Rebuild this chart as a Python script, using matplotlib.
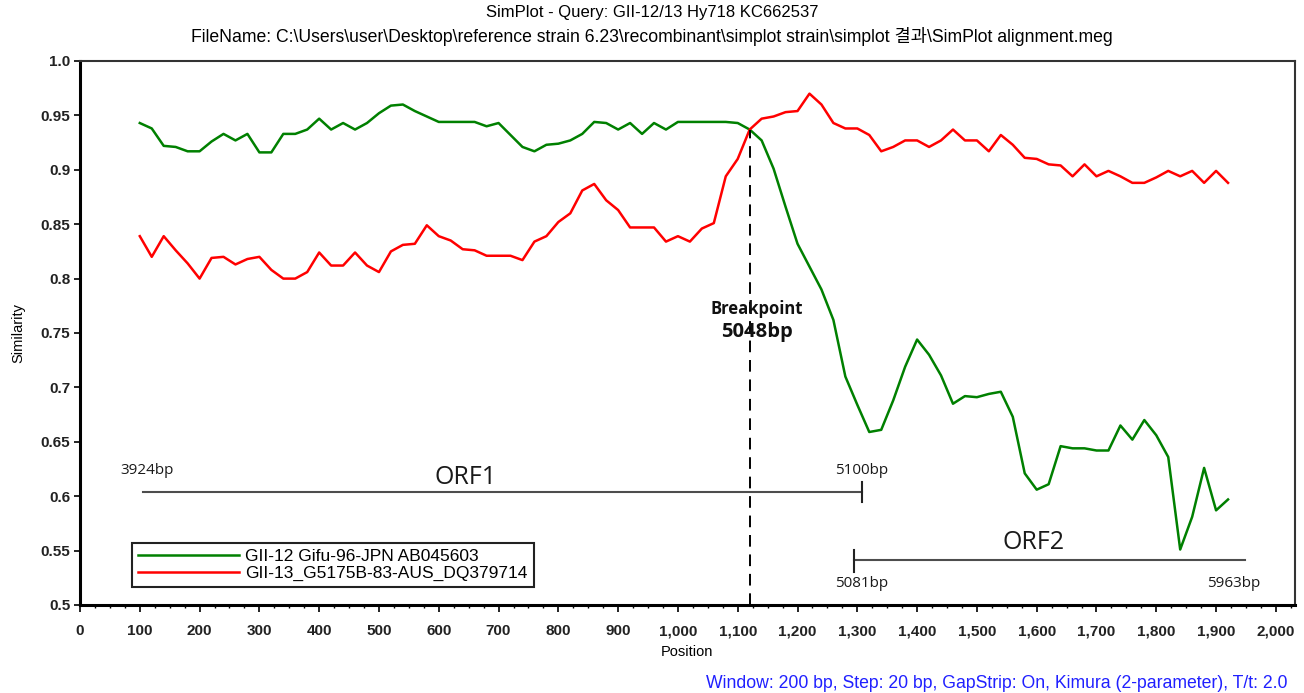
import numpy as np
import matplotlib
matplotlib.use("Agg")
import matplotlib.pyplot as plt
from matplotlib.ticker import MultipleLocator, FuncFormatter, FixedLocator

# SimPlot output, window 200 bp, step 20 bp
position = np.arange(100, 1921, 20)

gii12_gifu = [
    0.943, 0.938, 0.922, 0.921, 0.917, 0.917, 0.926, 0.933, 0.927, 0.933,
    0.916, 0.916, 0.933, 0.933, 0.937, 0.947, 0.937, 0.943, 0.937, 0.943,
    0.952, 0.959, 0.960, 0.954, 0.949, 0.944, 0.944, 0.944, 0.944, 0.940,
    0.943, 0.932, 0.921, 0.917, 0.923, 0.924, 0.927, 0.933, 0.944, 0.943,
    0.937, 0.943, 0.933, 0.943, 0.937, 0.944, 0.944, 0.944, 0.944, 0.944,
    0.943, 0.937, 0.927, 0.901, 0.866, 0.832, 0.811, 0.790, 0.762, 0.710,
    0.684, 0.659, 0.661, 0.688, 0.719, 0.744, 0.730, 0.711, 0.685, 0.692,
    0.691, 0.694, 0.696, 0.673, 0.621, 0.606, 0.611, 0.646, 0.644, 0.644,
    0.642, 0.642, 0.665, 0.652, 0.670, 0.656, 0.636, 0.551, 0.581, 0.626,
    0.587, 0.597,
]

gii13_g5175b = [
    0.839, 0.820, 0.839, 0.826, 0.814, 0.800, 0.819, 0.820, 0.813, 0.818,
    0.820, 0.808, 0.800, 0.800, 0.806, 0.824, 0.812, 0.812, 0.824, 0.812,
    0.806, 0.825, 0.831, 0.832, 0.849, 0.839, 0.835, 0.827, 0.826, 0.821,
    0.821, 0.821, 0.817, 0.834, 0.839, 0.852, 0.860, 0.881, 0.887, 0.872,
    0.863, 0.847, 0.847, 0.847, 0.834, 0.839, 0.834, 0.846, 0.851, 0.894,
    0.910, 0.937, 0.947, 0.949, 0.953, 0.954, 0.970, 0.960, 0.943, 0.938,
    0.938, 0.932, 0.917, 0.921, 0.927, 0.927, 0.921, 0.927, 0.937, 0.927,
    0.927, 0.917, 0.932, 0.923, 0.911, 0.910, 0.905, 0.904, 0.894, 0.905,
    0.894, 0.899, 0.894, 0.888, 0.888, 0.893, 0.899, 0.894, 0.899, 0.888,
    0.899, 0.888,
]

series_labels = ["GII-12 Gifu-96-JPN AB045603", "GII-13_G5175B-83-AUS_DQ379714"]
y_ticks = [0.5, 0.55, 0.6, 0.65, 0.7, 0.75, 0.8, 0.85, 0.9, 0.95, 1.0]
y_tick_labels = ["0.5", "0.55", "0.6", "0.65", "0.7", "0.75", "0.8", "0.85", "0.9", "0.95", "1.0"]

breakpoint_pos = 1120
# ORF spans in alignment positions, with their genome coordinates
orf1 = (105, 1308, "3924bp", "5100bp")
orf2 = (1294, 1948, "5081bp", "5963bp")

title1 = "SimPlot - Query: GII-12/13 Hy718 KC662537"
title2 = ("FileName: C:\\Users\\user\\Desktop\\reference strain 6.23\\recombinant"
          "\\simplot strain\\simplot 결과\\SimPlot alignment.meg")
footer = "Window: 200 bp, Step: 20 bp, GapStrip: On, Kimura (2-parameter), T/t: 2.0"

W, H = 1304, 693
fig = plt.figure(figsize=(W / 100, H / 100), dpi=100)
ax = fig.add_axes([80 / W, 1 - 605 / H, 1215 / W, 544 / H])

ax.plot(position, gii12_gifu, color="#008000", lw=1.8, label=series_labels[0])
ax.plot(position, gii13_g5175b, color="#ff0000", lw=1.8, label=series_labels[1])

ax.set_xlim(0, 2032)
ax.set_ylim(0.5, 1.0)

ax.xaxis.set_major_locator(MultipleLocator(100))
ax.xaxis.set_minor_locator(MultipleLocator(25))
ax.xaxis.set_major_formatter(FuncFormatter(lambda v, p: f"{int(v):,}"))
ax.yaxis.set_major_locator(FixedLocator(y_ticks))
ax.set_yticklabels(y_tick_labels)

tick_font = {"family": "Liberation Sans", "size": 11, "weight": "bold"}
for lab in ax.get_xticklabels() + ax.get_yticklabels():
    lab.set_fontproperties(matplotlib.font_manager.FontProperties(**tick_font))
    lab.set_color("#222222")
ax.tick_params(axis="x", which="major", length=5, width=1.2, pad=9)
ax.tick_params(axis="x", which="minor", length=2.5, width=1)
ax.tick_params(axis="y", which="major", length=4, width=1.2, pad=3)

for side in ["left", "bottom"]:
    ax.spines[side].set_linewidth(2.2)
    ax.spines[side].set_color("black")
for side in ["top", "right"]:
    ax.spines[side].set_linewidth(1.5)
    ax.spines[side].set_color("#333333")

# breakpoint
cross_y = np.interp(breakpoint_pos, position, gii12_gifu)
ax.plot([breakpoint_pos, breakpoint_pos], [0.5, cross_y], color="black",
        lw=1.4, ls=(0, (6, 4)))
ax.text(breakpoint_pos + 12, 0.772, "Breakpoint", ha="center", va="center",
        fontsize=12, fontweight="bold", family="Open Sans", color="#111111")
ax.text(breakpoint_pos + 12, 0.751, "5048bp", ha="center", va="center",
        fontsize=14.5, fontweight="bold", family="Open Sans", color="#111111")

# ORF bars
orf_col = "#4d4d4d"
ax.plot([orf1[0], orf1[1]], [0.604, 0.604], color=orf_col, lw=1.5)
ax.plot([orf1[1], orf1[1]], [0.595, 0.613], color="#222222", lw=1.5)
ax.text(112, 0.624, orf1[2], ha="center", va="center", fontsize=11,
        family="Open Sans", color="#1a1a1a")
ax.text(1307, 0.624, orf1[3], ha="center", va="center", fontsize=11,
        family="Open Sans", color="#1a1a1a")
ax.text(644, 0.617, "ORF1", ha="center", va="center", fontsize=18,
        family="Open Sans", color="#1a1a1a")

ax.plot([orf2[0], orf2[1]], [0.5414, 0.5414], color=orf_col, lw=1.5)
ax.plot([orf2[0], orf2[0]], [0.530, 0.551], color="#222222", lw=1.5)
ax.text(1307, 0.520, orf2[2], ha="center", va="center", fontsize=11,
        family="Open Sans", color="#1a1a1a")
ax.text(1930, 0.520, orf2[3], ha="center", va="center", fontsize=11,
        family="Open Sans", color="#1a1a1a")
ax.text(1594, 0.557, "ORF2", ha="center", va="center", fontsize=18,
        family="Open Sans", color="#1a1a1a")

leg = ax.legend(loc="lower left", bbox_to_anchor=(0.043, 0.033),
                borderaxespad=0, fancybox=False, framealpha=1,
                edgecolor="#222222", handlelength=5.8, handletextpad=0.35,
                borderpad=0.35, labelspacing=0.1,
                prop={"family": "Liberation Sans", "size": 12.5})
leg.get_frame().set_linewidth(1.5)

title_fam = ["Liberation Sans", "Noto Sans CJK KR"]
fig.text(652 / W, 1 - 13 / H, title1, ha="center", va="center", fontsize=12,
         family=title_fam)
fig.text(652 / W, 1 - 37 / H, title2, ha="center", va="center", fontsize=12.7,
         family=title_fam)
fig.text(687 / W, 1 - 652 / H, "Position", ha="center", va="center",
         fontsize=10.5, family="Liberation Sans")
fig.text(18 / W, 1 - 333 / H, "Similarity", ha="center", va="center",
         rotation=90, fontsize=10.5, family="Liberation Sans")
fig.text(1288 / W, 1 - 684 / H, footer, ha="right", va="center", fontsize=12.7,
         family="Liberation Sans", color="#2020ff")

fig.savefig("out.png", dpi=100)
